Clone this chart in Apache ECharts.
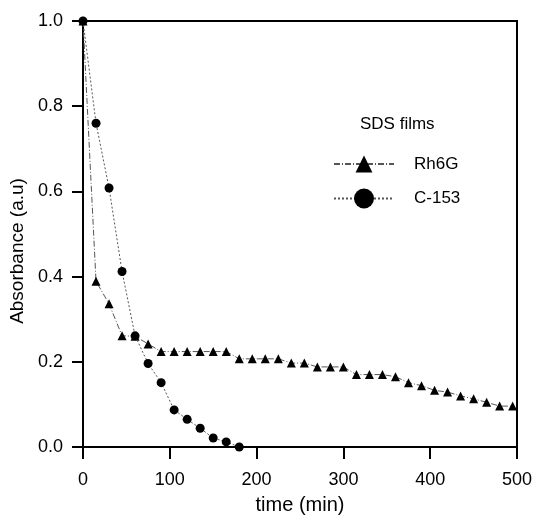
<!DOCTYPE html>
<html>
<head>
<meta charset="utf-8">
<script src="https://cdn.jsdelivr.net/npm/echarts@6/dist/echarts.min.js"></script>
<style>
html,body{margin:0;padding:0;background:#fff;}
#chart{width:536px;height:520px;}
</style>
</head>
<body>
<div id="chart"></div>
<script>
const rh6gTime = [0,15,30,45,60,75,90,105,120,135,150,165,180,195,210,225,240,255,270,285,300,315,330,345,360,375,390,405,420,435,450,465,480,495];
const rh6gAbs = [1.0,0.389,0.336,0.261,0.26,0.242,0.224,0.224,0.224,0.224,0.224,0.224,0.207,0.207,0.207,0.207,0.197,0.197,0.188,0.188,0.188,0.170,0.170,0.170,0.165,0.151,0.144,0.133,0.129,0.120,0.113,0.105,0.096,0.096];
const c153Time = [0,15,30,45,60,75,90,105,120,135,150,165,180];
const c153Abs = [1.0,0.760,0.608,0.412,0.261,0.196,0.151,0.087,0.065,0.044,0.021,0.012,0.0];
const xTicks = [0,100,200,300,400,500];
const yTicks = [0.0,0.2,0.4,0.6,0.8,1.0];
const legendTitle = 'SDS films';
const seriesNames = ['Rh6G','C-153'];
const xTitle = 'time (min)';
const yTitle = 'Absorbance (a.u)';

const FONT = 'Liberation Sans, Arial, sans-serif';
const chart = echarts.init(document.getElementById('chart'), null, {renderer:'canvas'});
const zip = (a,b) => a.map((v,i)=>[v,b[i]]);

chart.setOption({
  animation:false,
  backgroundColor:'#fff',
  textStyle:{fontFamily:FONT,color:'#000'},
  title:{text:legendTitle,left:360,top:116,padding:0,
    textStyle:{fontFamily:FONT,fontSize:17,fontWeight:'normal',color:'#000'}},
  grid:{left:83,right:19,top:21,bottom:65,show:true,borderColor:'#000',borderWidth:2,backgroundColor:'transparent'},
  legend:[
    {data:[seriesNames[0]],left:333,top:155.5,orient:'vertical',itemWidth:60,itemHeight:21,selectedMode:false,padding:0,
     textStyle:{fontFamily:FONT,fontSize:17,color:'#000',padding:[0,0,0,15]}},
    {data:[seriesNames[1]],left:333,top:188.5,orient:'vertical',itemWidth:60,itemHeight:25,selectedMode:false,padding:0,
     textStyle:{fontFamily:FONT,fontSize:17,color:'#000',padding:[0,0,0,15]}}
  ],
  xAxis:{type:'value',min:0,max:500,interval:100,
    name:xTitle,nameLocation:'middle',nameGap:48,
    nameTextStyle:{fontFamily:FONT,fontSize:20,color:'#000'},
    axisLine:{show:true,onZero:false,lineStyle:{color:'#000',width:2}},
    axisTick:{show:true,inside:false,length:12,lineStyle:{color:'#000',width:2}},
    axisLabel:{fontFamily:FONT,fontSize:18,color:'#000',margin:24,
      formatter:v=>xTicks.includes(v)?String(v):''},
    splitLine:{show:false}},
  yAxis:{type:'value',min:0,max:1,interval:0.2,
    name:yTitle,nameLocation:'middle',nameGap:46,nameRotate:90,
    nameTextStyle:{fontFamily:FONT,fontSize:19,color:'#000',padding:[0,34,0,0]},
    axisLine:{show:true,onZero:false,lineStyle:{color:'#000',width:2}},
    axisTick:{show:true,inside:false,length:11,lineStyle:{color:'#000',width:2}},
    axisLabel:{fontFamily:FONT,fontSize:18,color:'#000',margin:20,
      formatter:v=>{const t=yTicks.find(y=>Math.abs(y-v)<1e-6);return t===undefined?'':t.toFixed(1);}},
    splitLine:{show:false}},
  series:[
    {name:seriesNames[0],type:'line',data:zip(rh6gTime,rh6gAbs),
     symbol:'triangle',symbolSize:9,showAllSymbol:true,
     itemStyle:{color:'#000'},
     lineStyle:{color:'#555',width:1,type:[6,2,1,2]},z:3},
    {name:seriesNames[1],type:'line',data:zip(c153Time,c153Abs),
     symbol:'circle',symbolSize:9,showAllSymbol:true,
     itemStyle:{color:'#000'},
     lineStyle:{color:'#555',width:1,type:[2,2]},z:4}
  ]
});
</script>
</body>
</html>
